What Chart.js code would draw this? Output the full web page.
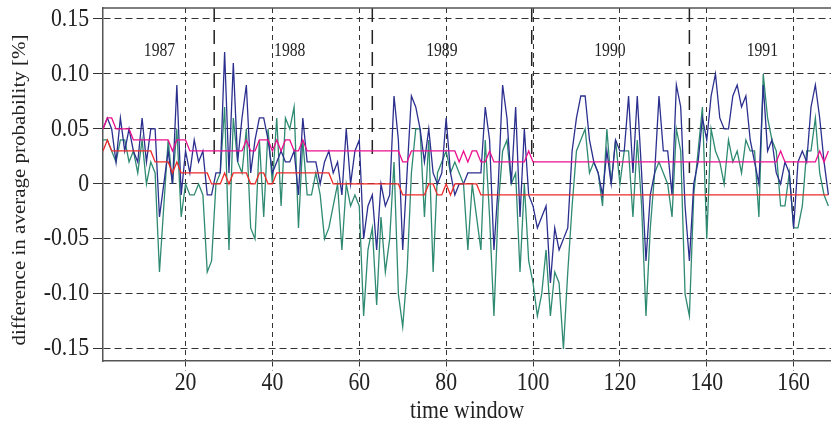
<!DOCTYPE html>
<html>
<head>
<meta charset="utf-8">
<script src="https://cdn.jsdelivr.net/npm/chart.js@4"></script>
<style>
  html, body { margin: 0; padding: 0; background: #fff; }
  canvas { display: block; }
</style>
</head>
<body>
<canvas id="myChart" width="831" height="425"></canvas>
<script>
// values, one per time window (1..168)
const blue = [
  0.05, 0.06, 0.05, 0.02, 0.06, 0.03, 0.05, 0.03, 0.02, 0.06,
  0.02, 0.05, 0.05, -0.03, 0.00, 0.03, 0.00, 0.09, -0.01, 0.03,
  0.01, 0.04, 0.02, 0.03, -0.01, -0.01, 0.01, 0.01, 0.12, 0.01,
  0.11, 0.02, 0.06, 0.09, 0.01, 0.04, 0.06, 0.06, 0.04, 0.01,
  0.02, 0.03, 0.02, 0.02, 0.03, -0.01, 0.06, 0.02, 0.02, 0.02,
  0.00, 0.02, 0.03, 0.01, 0.02, -0.01, 0.05, 0.00, 0.03, 0.04,
  -0.05, -0.02, -0.01, -0.06, 0.00, -0.02, -0.01, 0.08, 0.04, -0.06,
  0.01, 0.08, 0.07, 0.05, 0.02, 0.05, 0.01, 0.00, 0.01, 0.06,
  0.01, -0.01, 0.00, 0.00, 0.01, 0.01, 0.01, 0.01, 0.07, 0.04,
  -0.06, 0.00, 0.09, 0.06, 0.00, 0.07, -0.03, 0.05, -0.01, -0.02,
  -0.04, -0.03, -0.02, -0.09, -0.04, -0.06, -0.05, -0.04, 0.03, 0.06,
  0.08, 0.08, 0.04, 0.02, 0.01, -0.01, 0.03, 0.00, 0.04, 0.03,
  0.03, 0.08, 0.01, 0.08, 0.01, -0.07, -0.01, 0.01, 0.08, 0.03,
  0.03, -0.01, 0.09, 0.07, -0.02, -0.07, 0.00, 0.02, 0.06, 0.04,
  0.08, 0.10, 0.06, 0.05, 0.05, 0.08, 0.09, 0.07, 0.08, 0.04,
  0.02, 0.00, 0.09, 0.03, 0.04, 0.01, 0.00, 0.02, 0.01, -0.04,
  0.02, 0.03, 0.02, 0.07, 0.09, 0.06, 0.02, -0.01
];
const green = [
  0.04, 0.04, 0.03, 0.02, 0.04, 0.04, 0.02, 0.03, 0.01, 0.04,
  0.00, 0.02, 0.01, -0.08, -0.02, 0.04, 0.00, 0.05, -0.03, 0.00,
  -0.01, -0.01, 0.00, -0.01, -0.08, -0.07, 0.00, 0.01, 0.07, -0.06,
  0.06, 0.02, 0.01, 0.05, -0.04, -0.05, 0.04, -0.03, 0.05, 0.00,
  0.06, -0.02, 0.06, 0.05, 0.07, -0.04, 0.04, -0.01, -0.01, 0.01,
  -0.01, -0.05, -0.04, -0.02, 0.00, -0.06, 0.00, -0.02, -0.01, -0.02,
  -0.12, -0.06, -0.04, -0.11, -0.03, -0.08, -0.05, 0.02, -0.10, -0.13,
  -0.08, 0.01, 0.05, 0.05, -0.03, 0.04, -0.08, 0.01, 0.02, 0.03,
  0.01, 0.02, 0.01, 0.00, -0.06, 0.00, -0.03, -0.06, 0.04, -0.03,
  -0.12, -0.02, 0.03, 0.04, 0.00, 0.01, -0.08, 0.00, -0.07, -0.09,
  -0.12, -0.10, -0.06, -0.12, -0.08, -0.09, -0.15, -0.08, -0.02, 0.03,
  0.04, 0.05, 0.01, 0.02, 0.01, -0.02, 0.05, 0.00, 0.04, 0.00,
  0.03, 0.03, -0.03, 0.04, -0.02, -0.12, -0.04, 0.01, 0.02, 0.01,
  0.00, -0.03, 0.05, 0.03, -0.10, -0.12, -0.01, 0.03, 0.07, -0.05,
  0.05, 0.03, 0.02, 0.00, 0.04, 0.02, 0.03, 0.01, 0.04, 0.03,
  0.03, -0.03, 0.10, 0.06, 0.04, 0.03, -0.02, -0.02, 0.01, -0.04,
  -0.04, -0.02, 0.03, 0.03, 0.06, 0.01, -0.01, -0.02
];
const magenta = [
  0.05, 0.06, 0.06, 0.05, 0.05, 0.05, 0.05, 0.04, 0.04, 0.04,
  0.04, 0.04, 0.04, 0.04, 0.04, 0.04, 0.03, 0.04, 0.04, 0.04,
  0.03, 0.03, 0.03, 0.03, 0.03, 0.03, 0.03, 0.03, 0.03, 0.03,
  0.03, 0.03, 0.03, 0.04, 0.03, 0.03, 0.04, 0.04, 0.04, 0.03,
  0.04, 0.03, 0.04, 0.04, 0.03, 0.03, 0.04, 0.03, 0.03, 0.03,
  0.03, 0.03, 0.03, 0.03, 0.03, 0.03, 0.03, 0.03, 0.03, 0.03,
  0.03, 0.03, 0.03, 0.03, 0.03, 0.03, 0.03, 0.03, 0.03, 0.02,
  0.02, 0.03, 0.03, 0.03, 0.03, 0.03, 0.03, 0.03, 0.03, 0.03,
  0.03, 0.03, 0.02, 0.03, 0.02, 0.03, 0.03, 0.02, 0.02, 0.03,
  0.02, 0.02, 0.02, 0.02, 0.02, 0.02, 0.02, 0.02, 0.03, 0.02,
  0.02, 0.02, 0.02, 0.02, 0.02, 0.02, 0.02, 0.02, 0.02, 0.02,
  0.02, 0.02, 0.02, 0.02, 0.02, 0.02, 0.02, 0.02, 0.02, 0.02,
  0.02, 0.02, 0.02, 0.02, 0.02, 0.02, 0.02, 0.02, 0.02, 0.02,
  0.02, 0.02, 0.02, 0.02, 0.02, 0.02, 0.02, 0.02, 0.02, 0.02,
  0.02, 0.02, 0.02, 0.02, 0.02, 0.02, 0.02, 0.02, 0.02, 0.02,
  0.02, 0.02, 0.02, 0.02, 0.02, 0.02, 0.03, 0.02, 0.02, 0.02,
  0.02, 0.02, 0.02, 0.02, 0.02, 0.03, 0.02, 0.03
];
const red = [
  0.03, 0.04, 0.03, 0.03, 0.03, 0.03, 0.03, 0.03, 0.03, 0.03,
  0.03, 0.03, 0.02, 0.02, 0.02, 0.02, 0.01, 0.02, 0.01, 0.01,
  0.01, 0.01, 0.01, 0.01, 0.01, 0.00, 0.00, 0.00, 0.01, 0.00,
  0.01, 0.01, 0.01, 0.01, 0.00, 0.00, 0.01, 0.01, 0.00, 0.00,
  0.01, 0.01, 0.01, 0.01, 0.01, 0.01, 0.01, 0.01, 0.01, 0.01,
  0.01, 0.01, 0.01, 0.00, 0.00, 0.00, 0.00, 0.00, 0.00, 0.00,
  0.00, 0.00, 0.00, 0.00, 0.00, 0.00, 0.00, 0.00, 0.00, -0.01,
  -0.01, -0.01, -0.01, -0.01, -0.01, 0.00, 0.00, -0.01, -0.01, 0.00,
  -0.01, 0.00, 0.00, 0.00, 0.00, 0.00, 0.00, -0.01, -0.01, -0.01,
  -0.01, -0.01, -0.01, -0.01, -0.01, -0.01, -0.01, -0.01, -0.01, -0.01,
  -0.01, -0.01, -0.01, -0.01, -0.01, -0.01, -0.01, -0.01, -0.01, -0.01,
  -0.01, -0.01, -0.01, -0.01, -0.01, -0.01, -0.01, -0.01, -0.01, -0.01,
  -0.01, -0.01, -0.01, -0.01, -0.01, -0.01, -0.01, -0.01, -0.01, -0.01,
  -0.01, -0.01, -0.01, -0.01, -0.01, -0.01, -0.01, -0.01, -0.01, -0.01,
  -0.01, -0.01, -0.01, -0.01, -0.01, -0.01, -0.01, -0.01, -0.01, -0.01,
  -0.01, -0.01, -0.01, -0.01, -0.01, -0.01, -0.01, -0.01, -0.01, -0.01,
  -0.01, -0.01, -0.01, -0.01, -0.01, -0.01, -0.01, -0.01
];

const xTicks = [20, 40, 60, 80, 100, 120, 140, 160];
const yTicks = [-0.15, -0.10, -0.05, 0, 0.05, 0.10, 0.15];
const yTickLabels = ["-0.15", "-0.10", "-0.05", "0", "0.05", "0.10", "0.15"];
const years = ["1987", "1988", "1989", "1990", "1991"];
const yearMid = [14, 44, 79, 117.7, 152.8];
const yearLabelY = 0.121;
const yearBounds = [26.6, 63.0, 99.7, 136.0];
const yearBoundEnd = [0.022, 0.022, 0.02, 0.01];

const timeWindow = blue.map((v, i) => i + 1);
const pts = arr => arr.map((v, i) => ({x: timeWindow[i], y: v}));

const SQUEEZE = 0.87;
const FONT = '"Liberation Serif", "Times New Roman", serif';

function drawLabel(ctx, txt, x, y, size, align, rotate) {
  ctx.save();
  ctx.translate(x, y);
  ctx.scale(SQUEEZE, 1);
  if (rotate) ctx.rotate(-Math.PI / 2);
  ctx.font = size + "px " + FONT;
  ctx.textAlign = align;
  ctx.textBaseline = "middle";
  ctx.fillStyle = "#222";
  ctx.fillText(txt, 0, 0);
  ctx.restore();
}

const textPlugin = {
  id: "texts",
  afterDraw(chart) {
    const ctx = chart.ctx;
    const a = chart.chartArea;
    const xs = chart.scales.x, ys = chart.scales.y;

    // top frame line
    ctx.save();
    ctx.strokeStyle = "#555";
    ctx.lineWidth = 1.5;
    ctx.beginPath();
    ctx.moveTo(a.left, a.top);
    ctx.lineTo(a.right, a.top);
    ctx.stroke();
    ctx.restore();

    yTicks.forEach((v, i) => drawLabel(ctx, yTickLabels[i], 89, ys.getPixelForValue(v), 25, "right"));
    xTicks.forEach(v => drawLabel(ctx, String(v), xs.getPixelForValue(v), 383, 25, "center"));
    years.forEach((t, i) => drawLabel(ctx, t, xs.getPixelForValue(yearMid[i]), ys.getPixelForValue(yearLabelY), 18, "center"));

    drawLabel(ctx, "time window", (a.left + a.right) / 2, 411, 25, "center");
    drawLabel(ctx, "difference in average probability [%]", 20, 190, 21, "center", true);
  }
};

const lineStyle = (color) => ({
  borderColor: color, borderWidth: 1.3, pointRadius: 0, tension: 0, fill: false
});

const boundSets = yearBounds.map((b, i) => Object.assign({
  data: [{x: b, y: 0.16}, {x: b, y: yearBoundEnd[i]}]
}, lineStyle("#222"), {borderWidth: 1.5, borderDash: [14, 8]}));

const ctx = document.getElementById("myChart");

new Chart(ctx, {
  type: "line",
  data: {
    datasets: [
      Object.assign({label: "red", data: pts(red)}, lineStyle("#ee2a2a")),
      Object.assign({label: "magenta", data: pts(magenta)}, lineStyle("#ec0f8e")),
      Object.assign({label: "blue", data: pts(blue)}, lineStyle("#2b2f8e")),
      Object.assign({label: "green", data: pts(green)}, lineStyle("#2f8a72")),
      ...boundSets
    ]
  },
  options: {
    responsive: false,
    animation: false,
    devicePixelRatio: 1,
    layout: {padding: {top: 8, left: 0, right: 0, bottom: 0}},
    plugins: {legend: {display: false}, tooltip: {enabled: false}},
    scales: {
      x: {
        type: "linear",
        min: 1,
        max: 168.6,
        afterBuildTicks: s => { s.ticks = xTicks.map(v => ({value: v})); },
        afterFit: s => { s.height = 64; },
        ticks: {display: false},
        grid: {color: "#333", lineWidth: 1, tickLength: 10, tickColor: "#333", tickBorderDash: [5, 4]},
        border: {color: "#555", width: 1.5, dash: [5, 4]}
      },
      y: {
        min: -0.161,
        max: 0.16,
        afterBuildTicks: s => { s.ticks = yTicks.map(v => ({value: v})); },
        afterFit: s => { s.width = 103; },
        ticks: {display: false},
        grid: {color: "#333", lineWidth: 1, tickLength: 10, tickColor: "#333"},
        border: {color: "#555", width: 1.5, dash: [7, 4]}
      }
    }
  },
  plugins: [textPlugin]
});
</script>
</body>
</html>
